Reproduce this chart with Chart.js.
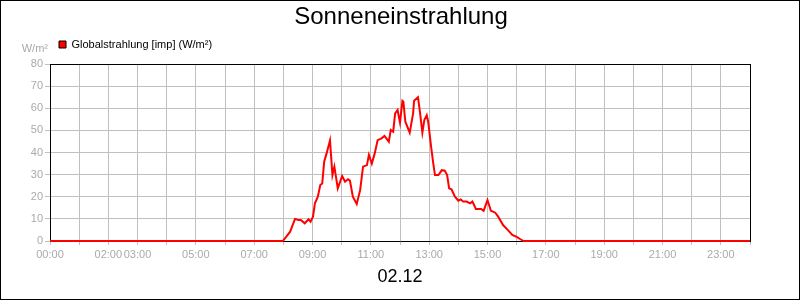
<!DOCTYPE html>
<html>
<head>
<meta charset="utf-8">
<script src="https://cdn.jsdelivr.net/npm/chart.js@4/dist/chart.umd.min.js"></script>
<style>
  html, body { margin: 0; padding: 0; background: #fff; }
  #box { width: 800px; height: 300px; box-sizing: border-box; border: 1px solid #000; }
  #chart { display: block; }
</style>
</head>
<body>
<div id="box"><canvas id="chart" width="798" height="298"></canvas></div>
<script>
var chartTitle = 'Sonneneinstrahlung';
var dateLabel = '02.12';
var seriesName = 'Globalstrahlung [imp] (W/m²)';
var unitLabel = 'W/m²';

// time of reading and radiation value (W/m²)
var times = ['00:00','07:59','08:14','08:24','08:31','08:36','08:44','08:52','08:56','09:01',
    '09:05','09:11','09:16','09:20','09:24','09:29','09:36','09:41','09:45','09:52',
    '10:01','10:07','10:13','10:17','10:23','10:31','10:38','10:44','10:52','10:56',
    '11:02','11:08','11:14','11:22','11:28','11:32','11:37','11:41','11:46','11:50',
    '11:55','12:00','12:05','12:07','12:11','12:20','12:27','12:29','12:37','12:41',
    '12:46','12:50','12:55','12:58','13:04','13:08','13:12','13:19','13:26','13:32',
    '13:37','13:41','13:46','13:53','14:00','14:05','14:10','14:17','14:24','14:29',
    '14:34','14:36','14:47','14:52','15:00','15:07','15:16','15:22','15:32','15:43',
    '15:51','16:00','16:07','16:14','24:00'];
var values = [0, 0, 4.2, 10, 9.5, 9.5, 8, 9.8, 8.7, 11,
    17, 20, 25.3, 26, 35.8, 39.6, 45.5, 29.8, 33.6, 23.8,
    29.4, 26.8, 27.9, 27.3, 20, 16.7, 23, 33.6, 34.3, 38.9,
    35, 39.6, 45.6, 46.4, 47.5, 46.4, 44.9, 50.2, 49.4, 57.7,
    59.2, 53.5, 63.4, 63, 53.9, 49, 57.7, 63.4, 65, 58.4,
    49, 54.7, 56.9, 53.9, 42.6, 35.8, 29.8, 29.8, 32, 31.8,
    29.8, 23.8, 23.4, 20, 18.2, 18.8, 17.8, 17.8, 17, 17.8,
    15.5, 14.5, 14.5, 13.6, 18.5, 13.7, 12.8, 11, 7.2, 4.7,
    2.7, 1.9, 0.9, 0, 0];

// hours that get a tick label on the x axis
var labelledHours = [0, 2, 3, 5, 7, 9, 11, 13, 15, 17, 19, 21, 23];
var yMax = 80;
var yStep = 10;

var FONT = '"Liberation Sans", Arial, sans-serif';
var GRID = '#c0c0c0';
var LABEL = '#aaaaaa';

function toHours(t) {
    var p = t.split(':');
    return parseInt(p[0], 10) + parseInt(p[1], 10) / 60;
}

var points = times.map(function (t, i) {
    return {x: toHours(t), y: values[i]};
});

/* unit text to the left of the legend */
var unitPlugin = {
    id: 'unitText',
    afterDraw: function (chart) {
        var ctx = chart.ctx;
        ctx.save();
        ctx.font = '11px ' + FONT;
        ctx.fillStyle = LABEL;
        ctx.textAlign = 'right';
        ctx.textBaseline = 'alphabetic';
        ctx.fillText(unitLabel, 47, 51);
        ctx.restore();
    }
};

/* legend and title sit over the plot area, not the whole canvas */
var shiftPlugin = {
    id: 'boxShift',
    afterUpdate: function (chart) {
        var lg = chart.legend;
        if (lg && lg.legendHitBoxes) {
            lg.left = 48;
            lg.legendHitBoxes.forEach(function (b) { b.left += 48; });
        }
        if (chart.titleBlock) {
            chart.titleBlock.left = 51;
        }
    }
};

var ctx = document.getElementById('chart').getContext('2d');
var chart = new Chart(ctx, {
    type: 'line',
    data: {
        datasets: [{
            label: seriesName,
            data: points,
            xAxisID: 'x',
            yAxisID: 'y',
            borderColor: '#ff0000',
            backgroundColor: '#ff0000',
            borderWidth: 2,
            pointRadius: 0,
            tension: 0,
            fill: false,
            clip: false
        }]
    },
    options: {
        responsive: false,
        animation: false,
        layout: {padding: {left: 0, right: 49, top: 0, bottom: 0}},
        plugins: {
            tooltip: {enabled: false},
            title: {
                display: true,
                text: chartTitle,
                color: '#000',
                font: {family: FONT, size: 24, weight: 'normal', lineHeight: 1},
                padding: {top: 4, bottom: 0}
            },
            legend: {
                display: true,
                position: 'top',
                align: 'start',
                labels: {
                    color: '#000',
                    font: {family: FONT, size: 11},
                    boxWidth: 7,
                    boxHeight: 7,
                    padding: 10,
                    generateLabels: function (c) {
                        var items = Chart.defaults.plugins.legend.labels.generateLabels(c);
                        items.forEach(function (it) {
                            it.strokeStyle = '#000';
                            it.lineWidth = 1;
                            it.fillStyle = '#ff0000';
                        });
                        return items;
                    }
                }
            }
        },
        scales: {
            x: {
                type: 'linear',
                position: 'bottom',
                min: 0,
                max: 24,
                afterFit: function (s) { s.height = 58; },
                ticks: {
                    stepSize: 1,
                    autoSkip: false,
                    maxRotation: 0,
                    color: LABEL,
                    font: {family: FONT, size: 11},
                    padding: 3,
                    callback: function (v) {
                        if (labelledHours.indexOf(v) < 0) return '';
                        return (v < 10 ? '0' : '') + v + ':00';
                    }
                },
                grid: {
                    color: function (c) { return c.tick && c.tick.value === 24 ? '#000' : GRID; },
                    tickColor: GRID,
                    tickLength: 4,
                    drawTicks: true
                },
                border: {color: '#000', width: 1},
                title: {
                    display: true,
                    text: dateLabel,
                    color: '#000',
                    font: {family: FONT, size: 18},
                    padding: {top: 0, bottom: 11}
                }
            },
            xTop: {
                type: 'linear',
                position: 'top',
                display: true,
                afterFit: function (s) { s.height = 4; },
                grid: {display: false, drawTicks: false},
                ticks: {display: false},
                border: {display: false}
            },
            y: {
                type: 'linear',
                position: 'left',
                min: 0,
                max: yMax,
                afterFit: function (s) { s.width = 49; },
                ticks: {
                    stepSize: yStep,
                    color: LABEL,
                    font: {family: FONT, size: 11},
                    padding: 2
                },
                grid: {
                    color: function (c) { return c.tick && c.tick.value === yMax ? '#000' : GRID; },
                    tickColor: GRID,
                    tickLength: 5,
                    drawTicks: true
                },
                border: {color: '#000', width: 1}
            }
        }
    },
    plugins: [unitPlugin, shiftPlugin]
});
</script>
</body>
</html>
